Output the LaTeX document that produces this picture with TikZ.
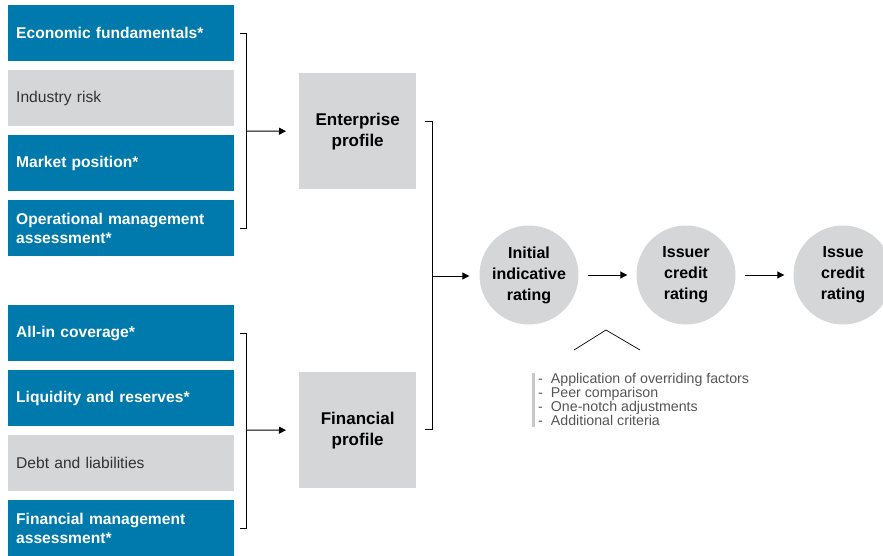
\documentclass[tikz,border=0pt]{standalone}
\usepackage{fontspec}
\setmainfont{Liberation Sans}
\usetikzlibrary{arrows.meta,calc}
\definecolor{spblue}{HTML}{007AAD}
\definecolor{spgray}{HTML}{D5D6D8}
\definecolor{txtdark}{HTML}{333333}
\definecolor{listtxt}{HTML}{555555}
\definecolor{barcol}{HTML}{C8C8C8}
\begin{document}
\begin{tikzpicture}[x=1pt,y=-1pt,
  leftbox/.style={anchor=north west,minimum width=226pt,minimum height=56pt,
    inner xsep=8pt,inner ysep=0pt,text width=210pt,align=left,
    font=\fontsize{15.6}{19}\selectfont},
  bluebox/.style={leftbox,fill=spblue,text=white,font=\fontsize{15.6}{19}\selectfont\bfseries},
  graybox/.style={leftbox,fill=spgray,text=txtdark},
  profbox/.style={anchor=north west,fill=spgray,minimum width=117pt,minimum height=116pt,
    inner sep=0pt,align=center,text=black,font=\fontsize{17}{21}\selectfont\bfseries},
  ratecirc/.style={circle,fill=spgray,minimum size=99pt,inner sep=0pt,align=center,
    text=black,font=\fontsize{16}{21}\selectfont\bfseries},
  conn/.style={line width=1pt,black},
  arr/.style={conn,-{Triangle[length=7pt,width=7pt]}}
]
\useasboundingbox (0,0) rectangle (883,556);
\clip (0,0) rectangle (883,556);

% left column, enterprise group
\node[bluebox] (e1) at (8,5) {Economic fundamentals*};
\node[graybox] (e2) at (8,70) {Industry risk};
\node[bluebox] (e3) at (8,135) {Market position*};
\node[bluebox] (e4) at (8,200) {Operational management\\assessment*};

% left column, financial group
\node[bluebox] (f1) at (8,305) {All-in coverage*};
\node[bluebox] (f2) at (8,370) {Liquidity and reserves*};
\node[graybox] (f3) at (8,435) {Debt and liabilities};
\node[bluebox] (f4) at (8,500) {Financial management\\assessment*};

% profiles
\node[profbox] (ep) at (299,73) {Enterprise\\profile};
\node[profbox] (fp) at (299,372) {Financial\\profile};

% rating circles
\node[ratecirc] (c1) at (529,275) {Initial\\indicative\\rating};
\node[ratecirc] (c2) at (686,275) {Issuer\\credit\\rating};
\node[ratecirc] (c3) at (843,275) {Issue\\credit\\rating};

% brackets to profiles
\coordinate (bt) at (246,131);
\draw[conn] ([xshift=6pt]e1.east) -- ++(6,0) |- ([xshift=6pt]e4.east);
\draw[arr] (bt) -- ([xshift=-13pt]ep.west);
\coordinate (bb) at (246,430);
\draw[conn] ([xshift=6pt]f1.east) -- ++(6,0) |- ([xshift=6pt]f4.east);
\draw[arr] (bb) -- ([xshift=-13pt]fp.west);

% bracket to initial rating
\coordinate (rt) at (425,122);
\coordinate (rb) at (425,429);
\coordinate (rm) at (432,276);
\draw[conn] (rt) -- ++(7,0) |- (rb);
\draw[arr] (rm) -- ([xshift=-10pt]c1.west |- rm);

% arrows between circles
\draw[arr] ([xshift=9pt]c1.east) -- ([xshift=-9pt]c2.west);
\draw[arr] ([xshift=9pt]c2.east) -- ([xshift=-9pt]c3.west);

% caret
\coordinate (k1) at (574,350);
\coordinate (k2) at (606,330);
\coordinate (k3) at (640,350);
\draw[line width=0.7pt,black] (k1) -- (k2) -- (k3);

% list
\coordinate (lb1) at (533.5,373);
\coordinate (lb2) at (533.5,427);
\draw[barcol,line width=2.5pt] (lb1) -- (lb2);
\node[anchor=north west,inner sep=0pt,align=left,text=listtxt,
  font=\fontsize{14.2}{14}\selectfont] (list) at (538,373)
  {-\hspace{8pt}Application of overriding factors\\-\hspace{8pt}Peer comparison\\-\hspace{8pt}One-notch adjustments\\-\hspace{8pt}Additional criteria};
\end{tikzpicture}
\end{document}
